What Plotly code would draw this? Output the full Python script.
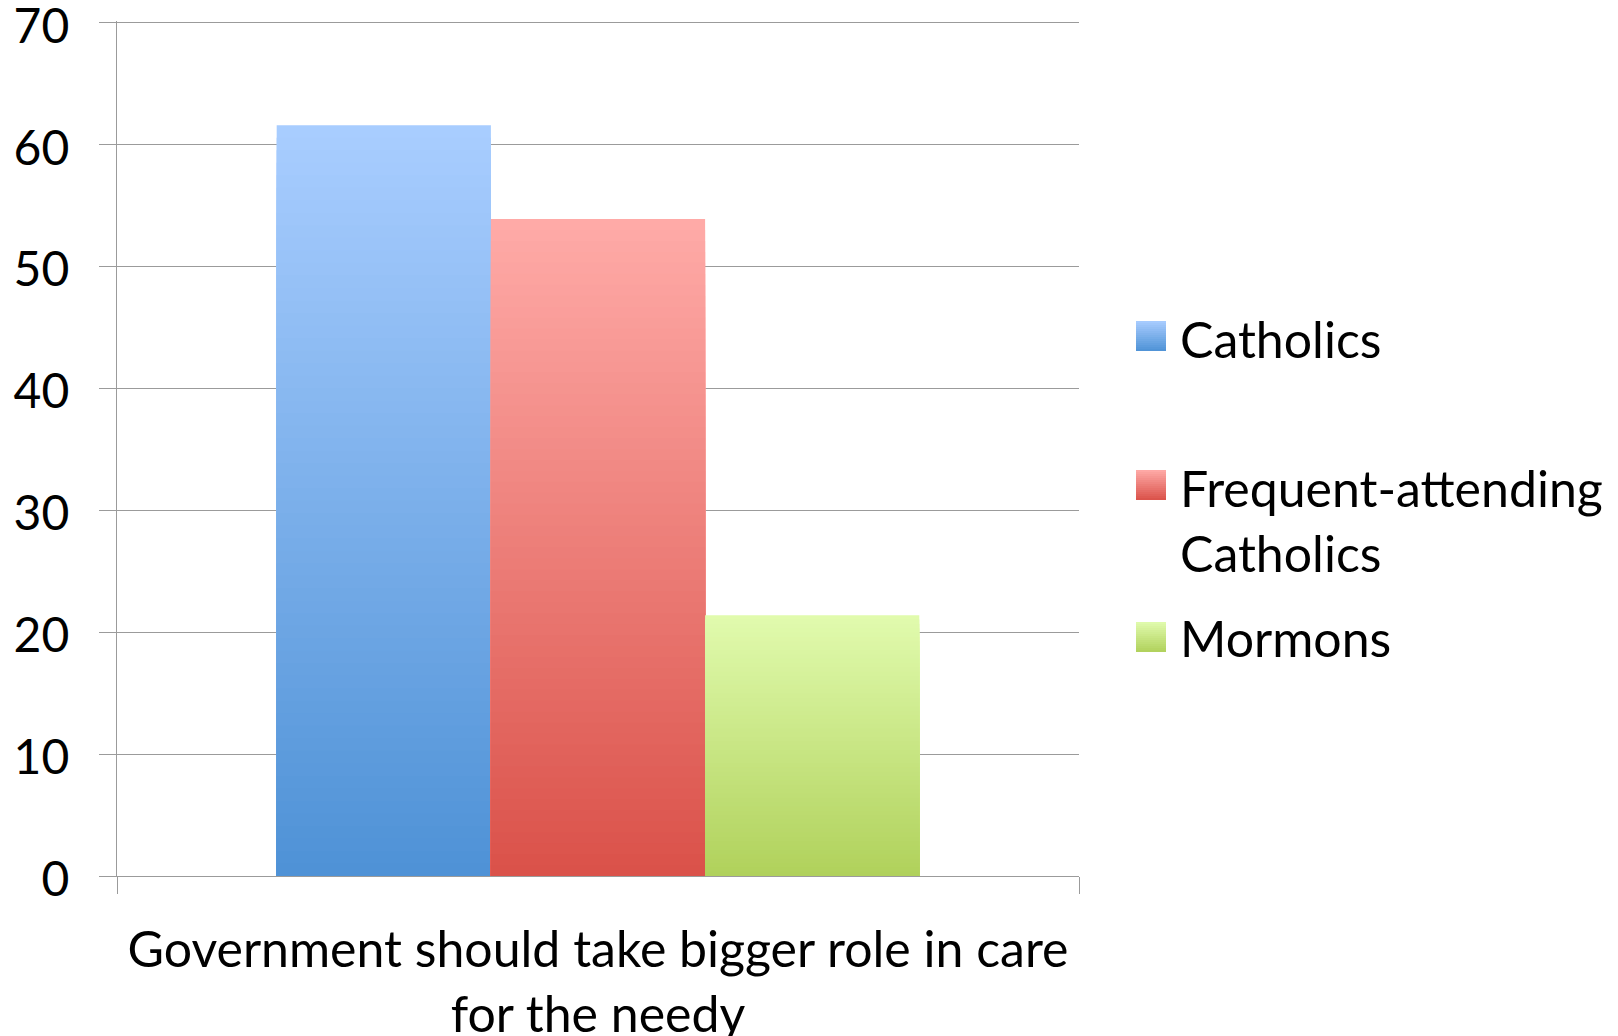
import plotly.graph_objects as go

# ---------------- data ----------------
categories = ["Government should take bigger role in care<br>for the needy"]
series_names = ["Catholics", "Frequent-attending<br>Catholics", "Mormons"]
catholics = [61.6]
frequent_catholics = [53.9]
mormons = [21.4]
y_ticks = [0, 10, 20, 30, 40, 50, 60, 70]

series_values = [catholics, frequent_catholics, mormons]

# ---------------- styles ----------------
top_colors = [(169, 205, 255), (255, 171, 168), (225, 251, 174)]
bottom_colors = [(78, 146, 214), (218, 81, 73), (176, 209, 91)]
FONT = "Lato"
FS_TICK = 48
FS_TEXT = 50
GRID = "rgb(155,155,155)"

W, H = 1618, 1036
ML, MR, MT, MB = 117, 539, 21, 160
PW, PH = W - ML - MR, H - MT - MB


def xp(px):
    return (px - ML) / PW


def yp(py):
    return (H - MB - py) / PH


def mix(c0, c1, t):
    return "rgb({},{},{})".format(*[round(a + (b - a) * t) for a, b in zip(c0, c1)])


fig = go.Figure()

# gradient bars: nested overlapping bars of the same offsetgroup
N = 60
for si, (name, vals) in enumerate(zip(series_names, series_values)):
    label = name.replace("<br>", " ")
    for k in range(N, 0, -1):
        t = (k - 0.5) / N
        fig.add_trace(go.Bar(
            x=categories,
            y=[v * k / N for v in vals],
            offsetgroup=str(si),
            legendgroup=label,
            name=label,
            showlegend=False,
            marker=dict(color=mix(bottom_colors[si], top_colors[si], t), line=dict(width=0)),
            customdata=vals,
            hovertemplate=label + ": %{customdata}<extra></extra>",
            hoverinfo="skip" if k != N else None,
        ))

# legend drawn as gradient squares + text
legend_text_y = [339, 520, 638]
legend_sq_top = [321, 470, 622]
shapes = []
annotations = []
S = 15
for si, name in enumerate(series_names):
    y0 = legend_sq_top[si]
    for j in range(S):
        t = 1 - (j + 0.5) / S
        shapes.append(dict(
            type="rect", xref="paper", yref="paper",
            x0=xp(1136), x1=xp(1166),
            y0=yp(y0 + 30 * (j + 1) / S), y1=yp(y0 + 30 * j / S),
            fillcolor=mix(bottom_colors[si], top_colors[si], t),
            line=dict(width=0), layer="above",
        ))
    annotations.append(dict(
        text=name, xref="paper", yref="paper",
        x=xp(1178), y=yp(legend_text_y[si]), xanchor="left", yanchor="middle",
        align="left", showarrow=False,
        font=dict(family=FONT, size=FS_TEXT, color="black"),
    ))

fig.update_layout(
    width=W, height=H,
    margin=dict(l=ML, r=MR, t=MT, b=MB),
    paper_bgcolor="white", plot_bgcolor="white",
    barmode="group", bargap=0.332, bargroupgap=0,
    showlegend=False,
    shapes=shapes, annotations=annotations,
    font=dict(family=FONT, size=FS_TEXT, color="black"),
)
fig.update_yaxes(
    range=[0, 70.15], tickvals=y_ticks, ticktext=[str(v) for v in y_ticks],
    showgrid=True, gridcolor=GRID, gridwidth=1.3,
    showline=True, linecolor=GRID, linewidth=1.3,
    ticks="outside", ticklen=17, tickcolor=GRID, tickwidth=1.3,
    zeroline=False, ticklabelstandoff=20, ticklabelshift=3, automargin=False,
    ticklabeloverflow="allow",
    tickfont=dict(family=FONT, size=FS_TICK, color="black"),
)
fig.update_xaxes(
    type="category",
    showline=True, linecolor=GRID, linewidth=1.3,
    ticks="outside", tickson="boundaries", ticklen=17, tickcolor=GRID, tickwidth=1.3,
    showgrid=False, zeroline=False, ticklabelstandoff=30, automargin=False,
    ticklabeloverflow="allow",
    tickfont=dict(family=FONT, size=FS_TEXT, color="black"),
)

fig.write_html(
    "out.html",
    config={"displayModeBar": False},
    post_script="document.body.style.margin='0';document.body.style.overflow='hidden';",
)
